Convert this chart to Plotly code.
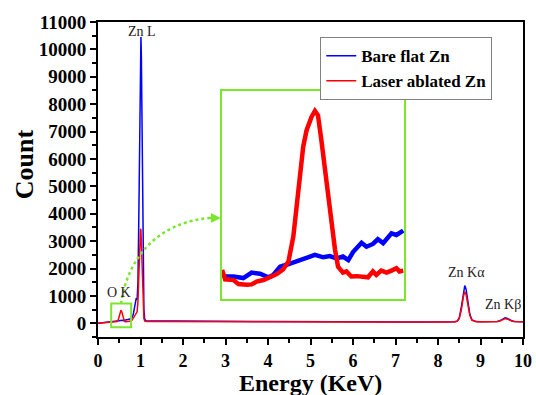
import plotly.graph_objects as go

# ---- main spectrum data (energy in keV, counts) ----
energy = [0.00, 0.05, 0.10, 0.15, 0.20, 0.25, 0.30, 0.35, 0.40, 0.45, 0.48, 0.50, 0.52, 0.54, 0.56,
          0.58, 0.60, 0.62, 0.65, 0.70, 0.75, 0.80, 0.83, 0.86, 0.88, 0.90, 0.92, 0.94, 0.96, 0.98,
          1.00, 1.01, 1.02, 1.04, 1.06, 1.08, 1.10, 1.12, 1.15,
          1.2, 1.4, 1.6, 1.8, 2.0, 2.2, 2.4, 2.6, 2.8, 3.0, 3.2, 3.4, 3.6, 3.8, 4.0, 4.2, 4.4, 4.6,
          4.8, 5.0, 5.2, 5.4, 5.6, 5.8, 6.0, 6.2, 6.4, 6.6, 6.8, 7.0, 7.2, 7.4, 7.6, 7.8, 8.0, 8.2, 8.4,
          8.45, 8.50, 8.55, 8.60, 8.63, 8.66, 8.70, 8.75, 8.80, 8.85, 8.90, 9.0, 9.1, 9.2, 9.3, 9.4,
          9.45, 9.50, 9.55, 9.58, 9.62, 9.66, 9.70, 9.75, 9.8, 9.9, 10.0]

bare_counts = [5, 12, 18, 25, 30, 40, 55, 55, 62, 60, 82, 92, 100, 110, 106,
               108, 104, 106, 125, 140, 160, 200, 330, 650, 880, 920, 850, 1500, 3800, 7800,
               10200, 10450, 9800, 6500, 2400, 500, 150, 95, 85,
               82, 78, 85, 80, 76, 79, 74, 72, 75, 70, 68, 71, 66, 64, 67, 62, 60, 63,
               58, 56, 59, 55, 53, 56, 52, 50, 53, 49, 48, 51, 47, 46, 49, 47, 48, 52, 60,
               80, 200, 600, 1200, 1380, 1250, 800, 320, 120, 75, 62, 58, 55, 58, 60, 70,
               90, 140, 185, 200, 190, 150, 110, 80, 65, 60, 58]

laser_counts = [5, 10, 15, 22, 28, 35, 50, 38, 45, 65, 140, 280, 400, 480, 420,
                260, 110, 68, 57, 65, 72, 110, 200, 300, 350, 380, 420, 800, 1800, 3000,
                3450, 3400, 2900, 1600, 600, 180, 80, 60, 62,
                70, 68, 72, 66, 65, 69, 63, 62, 65, 60, 58, 61, 57, 56, 59, 54, 53, 56,
                51, 50, 53, 49, 48, 51, 47, 46, 49, 45, 44, 47, 44, 43, 46, 44, 46, 50, 58,
                75, 170, 500, 1000, 1150, 1050, 680, 280, 110, 70, 58, 55, 52, 55, 57, 65,
                85, 125, 160, 170, 160, 130, 95, 72, 62, 57, 55]

# ---- inset (O K region) data ----
inset_bare_e = [0.303, 0.330, 0.356, 0.378, 0.400, 0.422, 0.435, 0.453, 0.470, 0.497, 0.523, 0.545,
                0.567, 0.584, 0.602, 0.619, 0.633, 0.646, 0.668, 0.681, 0.698, 0.711, 0.725, 0.747,
                0.760, 0.778]
inset_bare_c = [57, 57, 53, 67, 64, 55, 61, 82, 87, 95, 103, 112,
                106, 109, 103, 108, 99, 120, 143, 133, 140, 152, 142, 167,
                163, 174]
inset_laser_e = [0.300, 0.308, 0.330, 0.343, 0.365, 0.378, 0.391, 0.409, 0.426, 0.444, 0.461, 0.475,
                 0.488, 0.501, 0.514, 0.523, 0.536, 0.545, 0.553, 0.562, 0.571, 0.580, 0.589, 0.598,
                 0.606, 0.619, 0.628, 0.641, 0.655, 0.672, 0.685, 0.698, 0.707, 0.720, 0.734, 0.747,
                 0.760, 0.768, 0.778]
inset_laser_c = [74, 50, 48, 38, 36, 37, 44, 48, 55, 63, 75, 95,
                 159, 277, 388, 430, 464, 479, 468, 404, 328, 252, 193, 125,
                 82, 67, 70, 57, 58, 55, 55, 70, 61, 72, 67, 72,
                 78, 70, 72]

x_ticks = [0, 1, 2, 3, 4, 5, 6, 7, 8, 9, 10]
x_tick_labels = ["0", "1", "2", "3", "4", "5", "6", "7", "8", "9", "10"]
y_ticks = [0, 1000, 2000, 3000, 4000, 5000, 6000, 7000, 8000, 9000, 10000, 11000]
y_tick_labels = ["0", "1000", "2000", "3000", "4000", "5000", "6000", "7000", "8000",
                 "9000", "10000", "11000"]
series_names = ["Bare flat Zn", "Laser ablated Zn"]

BLUE = "#0000FF"
RED = "#FF0000"
GREEN = "#7CE62E"
SERIF = "Liberation Serif"

fig = go.Figure()
fig.add_trace(go.Scatter(x=energy, y=bare_counts, mode="lines", name="<b>%s</b>" % series_names[0],
                         line=dict(color=BLUE, width=1.5)))
fig.add_trace(go.Scatter(x=energy, y=laser_counts, mode="lines", name="<b>%s</b>" % series_names[1],
                         line=dict(color=RED, width=1.5)))
fig.add_trace(go.Scatter(x=inset_bare_e, y=inset_bare_c, mode="lines", showlegend=False,
                         line=dict(color=BLUE, width=4.5), xaxis="x2", yaxis="y2"))
fig.add_trace(go.Scatter(x=inset_laser_e, y=inset_laser_c, mode="lines", showlegend=False,
                         line=dict(color=RED, width=4.5), xaxis="x2", yaxis="y2"))

axis_common = dict(showline=True, linewidth=2, linecolor="black", mirror=True,
                   ticks="outside", ticklen=6, tickwidth=2, tickcolor="black",
                   showgrid=False, zeroline=False, automargin=False)

fig.update_layout(
    width=536, height=395,
    margin=dict(l=98, r=13, t=22, b=58),
    paper_bgcolor="white", plot_bgcolor="white",
    font=dict(family=SERIF),
    xaxis=dict(range=[0, 10], tickvals=x_ticks,
               ticktext=["<b>%s</b>" % t for t in x_tick_labels],
               tickfont=dict(family=SERIF, size=18, color="black"),
               minor=dict(ticks="outside", ticklen=4, tickwidth=2, dtick=0.5, tickcolor="black"),
               **axis_common),
    yaxis=dict(range=[-500, 11000], tickvals=y_ticks,
               ticktext=["<b>%s</b>" % t for t in y_tick_labels],
               tickfont=dict(family=SERIF, size=19, color="black"),
               minor=dict(ticks="outside", ticklen=4, tickwidth=2, dtick=500, tickcolor="black"),
               **axis_common),
    xaxis2=dict(domain=[0.292, 0.72], anchor="y2", range=[0.30, 0.78],
                showline=True, linewidth=2, linecolor=GREEN, mirror=True,
                showticklabels=False, ticks="", showgrid=False, zeroline=False),
    yaxis2=dict(domain=[0.121, 0.781], anchor="x2", range=[0, 530],
                showline=True, linewidth=2, linecolor=GREEN, mirror=True,
                showticklabels=False, ticks="", showgrid=False, zeroline=False),
    legend=dict(x=0.523, y=0.952, xanchor="left", yanchor="top",
                bordercolor="#808080", borderwidth=1, bgcolor="white",
                font=dict(family=SERIF, size=17, color="black"),
                tracegroupgap=0, itemwidth=30),
    showlegend=True,
)

# axis titles
fig.add_annotation(xref="paper", yref="paper", x=0.5, y=-0.147, text="<b>Energy (KeV)</b>",
                   showarrow=False, xanchor="center", yanchor="middle",
                   font=dict(family=SERIF, size=24, color="black"))
fig.add_annotation(xref="paper", yref="paper", x=-0.173, y=0.55, text="<b>Count</b>", textangle=-90,
                   showarrow=False, xanchor="center", yanchor="middle",
                   font=dict(family=SERIF, size=26, color="black"))

# small selection box around the O K peak
fig.add_shape(type="rect", xref="x", yref="y", x0=0.31, x1=0.78, y0=-145, y1=727,
              line=dict(color=GREEN, width=2))
# dashed curved connector
fig.add_shape(type="path", xref="paper", yref="paper",
              path="M 0.054,0.105 C 0.0706,0.260 0.146,0.365 0.2635,0.378",
              line=dict(color=GREEN, width=2.5, dash="dot"))
fig.add_annotation(xref="paper", yref="paper", x=0.289, y=0.378, ax=-14, ay=0,
                   showarrow=True, arrowhead=2, arrowsize=1, arrowwidth=2,
                   arrowcolor=GREEN, text="")

ann_font = dict(family=SERIF, size=14, color="#222222")
for txt, xv, yv in [("Zn L", 1.03, 10650), ("O K", 0.49, 1130),
                    ("Zn Kα", 8.66, 1870), ("Zn Kβ", 9.53, 690)]:
    fig.add_annotation(x=xv, y=yv, xref="x", yref="y", text=txt, showarrow=False,
                       font=ann_font, xanchor="center", yanchor="middle")

fig.write_html("out.html")
